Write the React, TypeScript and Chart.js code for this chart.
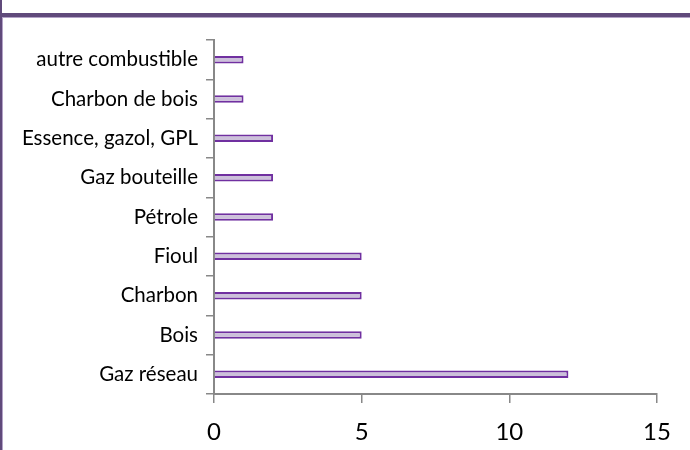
import React, { useEffect, useRef } from "react";
import { Chart, registerables } from "chart.js";

Chart.register(...registerables);

const categories = [
  "autre combustible",
  "Charbon de bois",
  "Essence, gazol, GPL",
  "Gaz bouteille",
  "Pétrole",
  "Fioul",
  "Charbon",
  "Bois",
  "Gaz réseau",
];
const values = [1, 1, 2, 2, 2, 5, 5, 5, 12];
const xMin = 0;
const xMax = 15;
const xStep = 5;

export default function App() {
  const ref = useRef<HTMLCanvasElement | null>(null);

  useEffect(() => {
    if (!ref.current) return;
    const chart = new Chart(ref.current, {
      type: "bar",
      data: {
        labels: categories,
        datasets: [
          {
            data: values,
            backgroundColor: "#CCC0DA",
            borderColor: "#7030A0",
            borderWidth: 2,
            barPercentage: 0.19,
            categoryPercentage: 1,
          },
        ],
      },
      options: {
        indexAxis: "y",
        animation: false,
        responsive: false,
        maintainAspectRatio: false,
        layout: { padding: { left: 0, top: 40, right: 33, bottom: 0 } },
        plugins: {
          legend: { display: false },
          title: { display: false },
          tooltip: { enabled: false },
        },
        scales: {
          x: {
            min: xMin,
            max: xMax,
            ticks: {
              stepSize: xStep,
              color: "#000",
              padding: 15,
              font: { family: "Lato", size: 24 },
            },
            grid: {
              drawOnChartArea: false,
              drawTicks: true,
              tickLength: 9,
              color: "#888888",
              lineWidth: 1.5,
            },
            border: { color: "#888888", width: 2 },
            afterFit: (scale: any) => {
              scale.height = 56;
            },
          },
          y: {
            ticks: {
              color: "#000",
              padding: 8,
              font: { family: "Lato", size: 20.5 },
            },
            grid: {
              offset: true,
              drawOnChartArea: false,
              drawTicks: true,
              tickLength: 8,
              color: "#888888",
              lineWidth: 1.5,
            },
            border: { color: "#888888", width: 2 },
            afterFit: (scale: any) => {
              scale.width = 214;
            },
          },
        },
      },
    });
    return () => chart.destroy();
  }, []);

  return (
    <div
      style={{
        position: "fixed",
        left: 0,
        top: 0,
        width: 690,
        height: 450,
        background: "#fff",
        overflow: "hidden",
      }}
    >
      <div style={{ position: "absolute", left: 0, top: 13, width: 690, height: 4, background: "#604A7B" }} />
      <div style={{ position: "absolute", left: 0, top: 17, width: 690, height: 1, background: "#B3A2C7" }} />
      <div style={{ position: "absolute", left: 0, top: 0, width: 2, height: 450, background: "#604A7B" }} />
      <div style={{ position: "absolute", left: 2, top: 17, width: 1, height: 433, background: "#B3A2C7" }} />
      <canvas
        ref={ref}
        width={690}
        height={450}
        style={{ position: "absolute", left: 0, top: 0, width: 690, height: 450 }}
      />
    </div>
  );
}
